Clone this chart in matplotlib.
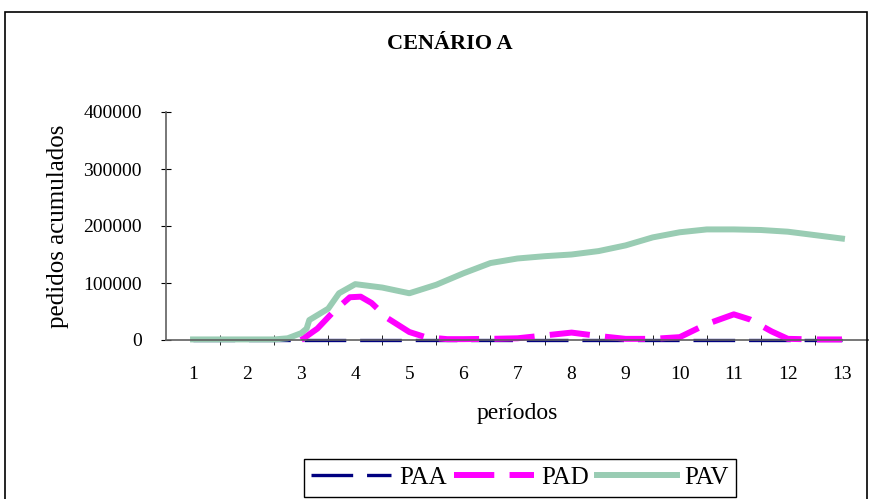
import matplotlib
matplotlib.use('Agg')
import matplotlib.pyplot as plt
from matplotlib.patches import Rectangle

plt.rcParams['font.family'] = ['Liberation Serif', 'DejaVu Serif']
plt.rcParams['lines.scale_dashes'] = False

# dados (períodos fracionários)
periodos = list(range(1, 14))

pav_x = [1, 1.5, 2, 2.5, 2.75, 3.0, 3.1, 3.15, 3.5, 3.7, 4.0, 4.5, 5.0, 5.5, 6.0, 6.5,
         7.0, 7.5, 8.0, 8.5, 9.0, 9.5, 10.0, 10.5, 11.0, 11.5, 12.0, 12.5, 13.0]
pav_y = [1000, 1000, 1000, 1000, 3000, 12000, 20000, 35000, 55000, 82000, 98000, 92000,
         82000, 97000, 117000, 135000, 143000, 147000, 150000, 156000, 166000, 180000,
         189000, 194000, 194000, 193000, 190000, 184000, 178000]

pad_x = [3.0, 3.3, 3.6, 3.9, 4.1, 4.3, 4.6, 5.0, 5.3, 5.7, 6.0, 6.5, 7.0, 7.5,
         8.0, 8.5, 9.0, 9.5, 10.0, 10.5, 11.0, 11.3, 11.7, 12.0, 12.5, 13.0]
pad_y = [0, 20000, 50000, 75000, 76000, 65000, 38000, 14000, 5000, 1500, 1500,
         2000, 3000, 8000, 13000, 7000, 2000, 2000, 5000, 28000, 45000, 36000, 15000,
         2000, 1000, 1000]

paa_x = periodos
paa_y = [0] * 13

fig = plt.figure(figsize=(8.7, 4.99), dpi=100)
ax = fig.add_axes([166 / 870, 159 / 499, 703 / 870, 228 / 499])

ax.plot(paa_x, paa_y, color='#000080', lw=2.4, dashes=(30, 10), label='PAA', clip_on=False)
ax.plot(pad_x, pad_y, color='#ff00ff', lw=4.3, dashes=(29, 11), label='PAD', clip_on=False)
ax.plot(pav_x, pav_y, color='#99ccb3', lw=4.3, label='PAV', clip_on=False)

ax.set_xlim(0.5, 13.5)
ax.set_ylim(0, 400000)
ax.set_xticks(periodos)
ax.set_xticklabels([str(p) for p in periodos])
ax.set_xticks([p + 0.5 for p in periodos], minor=True)
ax.tick_params(axis='x', which='major', length=0, pad=19, labelsize=14)
ax.tick_params(axis='x', which='minor', direction='inout', length=7, color='black')
ax.set_yticks([0, 100000, 200000, 300000, 400000])
ax.tick_params(axis='y', direction='inout', length=7, pad=14, labelsize=14, color='black')

for s in ['top', 'right']:
    ax.spines[s].set_visible(False)
for s in ['left', 'bottom']:
    ax.spines[s].set_color('#606060')
    ax.spines[s].set_linewidth(1.2)

ax.set_xlabel('períodos', fontsize=17, labelpad=14)
ax.set_ylabel('pedidos acumulados', fontsize=18, labelpad=10)

fig.text(450 / 870, 1 - 44 / 499, 'CENÁRIO A', ha='center', va='center',
         fontsize=16, fontweight='bold')

leg = ax.legend(loc='upper center', bbox_to_anchor=(520 / 870, 40 / 499),
                bbox_transform=fig.transFigure, ncol=3, fontsize=18,
                handlelength=3.2, columnspacing=0.3, handletextpad=0.3,
                fancybox=False, borderpad=0.3, borderaxespad=0, framealpha=1)
leg.get_frame().set_edgecolor('black')
leg.get_frame().set_linewidth(1.0)

fig.patches.append(Rectangle((5 / 870, -0.02), 862 / 870, 1.02 - 12 / 499,
                             transform=fig.transFigure, fill=False,
                             edgecolor='black', lw=1.2))

fig.savefig('out.png', dpi=100)
